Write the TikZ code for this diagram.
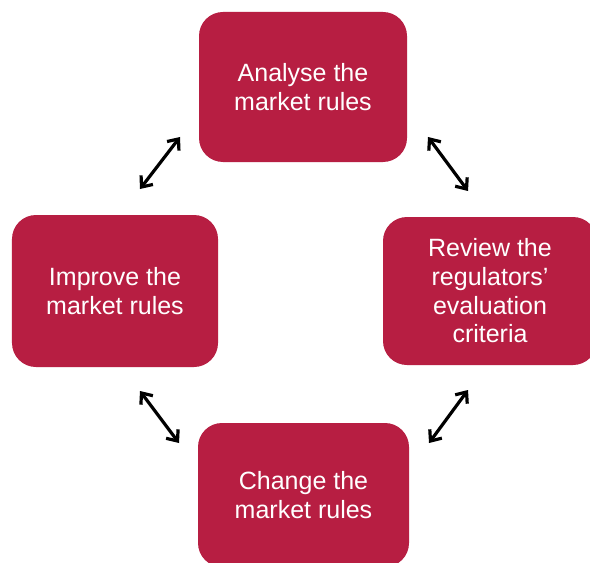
\documentclass[tikz,border=0pt]{standalone}
\usepackage{fontspec}
\setmainfont{Liberation Sans}
\usetikzlibrary{arrows.meta}
\definecolor{boxred}{RGB}{183,30,66}
\tikzset{
  stagebox/.style={fill=boxred, draw=none, rounded corners=24bp, inner sep=0pt,
    text=white, align=center, font=\fontsize{25bp}{28.7bp}\selectfont},
  linkarrow/.style={line width=3.2bp, {Straight Barb[length=9bp,width=15bp,line width=3.2bp]}-{Straight Barb[length=9bp,width=15bp,line width=3.2bp]}}
}
\begin{document}
\begin{tikzpicture}[x=1bp,y=-1bp]
\clip (0,0) rectangle (590,563);
\fill[white] (0,0) rectangle (590,563);
\node[stagebox, minimum width=208bp, minimum height=150bp] (analyse) at (303,87) {Analyse the\\market rules};
\node[stagebox, minimum width=206bp, minimum height=152bp] (improve) at (115,291) {Improve the\\market rules};
\node[stagebox, minimum width=214bp, minimum height=148bp] (review) at (490,291) {Review the\\regulators’\\evaluation\\criteria};
\node[stagebox, minimum width=211bp, minimum height=144bp] (change) at (303.5,495) {Change the\\market rules};
\coordinate (tl1) at (180,137);
\coordinate (tl2) at (140,189);
\coordinate (tr1) at (428,137);
\coordinate (tr2) at (468,191);
\coordinate (bl1) at (140,391);
\coordinate (bl2) at (179,443);
\coordinate (br1) at (468,390);
\coordinate (br2) at (429,443);
\draw[linkarrow] (tl1) -- (tl2);
\draw[linkarrow] (tr1) -- (tr2);
\draw[linkarrow] (bl1) -- (bl2);
\draw[linkarrow] (br1) -- (br2);
\end{tikzpicture}
\end{document}
